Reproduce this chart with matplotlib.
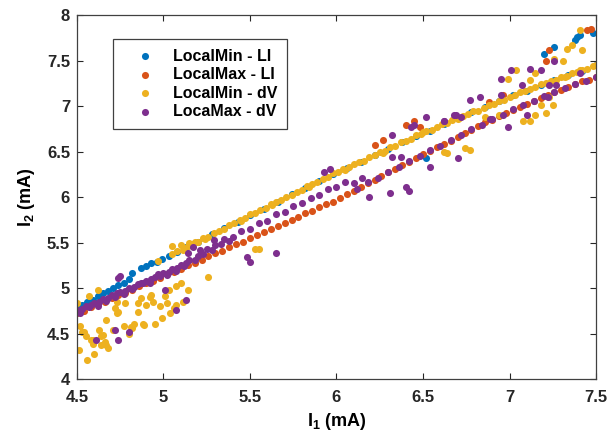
import numpy as np
import matplotlib
matplotlib.use('Agg')
import matplotlib.pyplot as plt

plt.rcParams['font.family'] = ['Liberation Sans', 'DejaVu Sans']
plt.rcParams['font.weight'] = 'bold'
plt.rcParams['mathtext.fontset'] = 'custom'
plt.rcParams['mathtext.rm'] = 'Liberation Sans:bold'
plt.rcParams['mathtext.bf'] = 'Liberation Sans:bold'

# values (I1, I2 in mA)
min_li = [(4.50, 4.79), (4.53, 4.81), (4.56, 4.85), (4.59, 4.87), (4.62, 4.91), (4.65, 4.94),
          (4.68, 4.97), (4.71, 5.00), (4.74, 5.03), (4.77, 5.06), (4.80, 5.10), (4.82, 5.16),
          (4.87, 5.22), (4.90, 5.24), (4.93, 5.27), (4.96, 5.29), (4.99, 5.32), (5.03, 5.35),
          (5.08, 5.40), (5.13, 5.45), (5.20, 5.51), (5.28, 5.59), (5.35, 5.66), (5.43, 5.73),
          (5.50, 5.80), (5.58, 5.87), (5.66, 5.95), (5.74, 6.03), (5.82, 6.10), (5.90, 6.18),
          (5.98, 6.25), (6.06, 6.32), (6.14, 6.39), (6.22, 6.46), (6.30, 6.53), (6.38, 6.60),
          (6.46, 6.67), (6.54, 6.73), (6.62, 6.80), (6.70, 6.87), (6.78, 6.93), (6.86, 6.99),
          (6.94, 7.05), (7.02, 7.12), (7.10, 7.17), (7.18, 7.23), (7.26, 7.29), (7.34, 7.34),
          (7.42, 7.39), (7.50, 7.45), (6.52, 6.43), (7.20, 7.57), (7.26, 7.65), (7.38, 7.73),
          (7.39, 7.76), (7.41, 7.78), (7.48, 7.80)]

max_li = [(4.50, 4.72), (4.54, 4.75), (4.58, 4.79), (4.62, 4.82), (4.66, 4.85), (4.70, 4.89),
          (4.74, 4.92), (4.78, 4.95), (4.82, 4.98), (4.86, 5.02), (4.90, 5.05), (4.94, 5.08),
          (4.98, 5.11), (5.02, 5.15), (5.06, 5.18), (5.10, 5.21), (5.14, 5.25), (5.18, 5.28),
          (5.22, 5.31), (5.26, 5.35), (5.30, 5.38), (5.34, 5.41), (5.38, 5.45), (5.42, 5.48),
          (5.46, 5.51), (5.50, 5.55), (5.54, 5.58), (5.58, 5.62), (5.62, 5.65), (5.66, 5.68),
          (5.70, 5.72), (5.74, 5.75), (5.78, 5.78), (5.82, 5.82), (5.86, 5.85), (5.90, 5.89),
          (5.94, 5.92), (5.98, 5.95), (6.02, 5.99), (6.06, 6.03), (6.10, 6.07), (6.14, 6.11),
          (6.18, 6.15), (6.22, 6.19), (6.26, 6.23), (6.30, 6.27), (6.34, 6.31), (6.38, 6.35),
          (6.42, 6.39), (6.46, 6.43), (6.50, 6.47), (6.54, 6.51), (6.58, 6.55), (6.62, 6.58),
          (6.66, 6.62), (6.70, 6.66), (6.74, 6.70), (6.78, 6.74), (6.82, 6.78), (6.86, 6.82),
          (6.90, 6.85), (6.94, 6.89), (6.98, 6.92), (7.02, 6.96), (7.06, 6.99), (7.10, 7.02),
          (7.14, 7.05), (7.18, 7.09), (7.22, 7.12), (7.26, 7.15), (7.30, 7.18), (7.34, 7.21),
          (7.38, 7.24), (7.42, 7.27), (7.46, 7.29), (7.50, 7.32),
          (6.22, 6.57), (6.27, 6.63), (6.40, 6.79), (6.45, 6.83), (6.48, 6.77), (6.88, 7.04),
          (6.96, 7.12), (7.21, 7.49), (7.23, 7.62), (7.45, 7.83), (7.47, 7.85)]

min_dv = [(5.05, 5.37), (5.08, 5.41), (5.11, 5.42), (5.14, 5.46), (5.17, 5.48), (5.20, 5.51),
          (5.23, 5.55), (5.26, 5.56), (5.29, 5.60), (5.32, 5.63), (5.35, 5.65), (5.38, 5.69),
          (5.41, 5.71), (5.44, 5.75), (5.47, 5.77), (5.50, 5.81), (5.53, 5.82), (5.56, 5.86),
          (5.59, 5.88), (5.62, 5.92), (5.65, 5.94), (5.68, 5.97), (5.71, 6.00), (5.74, 6.02),
          (5.77, 6.06), (5.80, 6.08), (5.83, 6.12), (5.86, 6.14), (5.89, 6.16), (5.92, 6.20),
          (5.95, 6.22), (5.98, 6.26), (6.01, 6.28), (6.04, 6.31), (6.07, 6.33), (6.10, 6.36),
          (6.13, 6.39), (6.16, 6.40), (6.19, 6.44), (6.22, 6.46), (6.25, 6.49), (6.28, 6.51),
          (6.31, 6.55), (6.34, 6.56), (6.37, 6.60), (6.40, 6.62), (6.43, 6.64), (6.46, 6.68),
          (6.49, 6.69), (6.52, 6.73), (6.55, 6.74), (6.58, 6.77), (6.61, 6.80), (6.64, 6.81),
          (6.67, 6.85), (6.70, 6.86), (6.73, 6.89), (6.76, 6.91), (6.79, 6.94), (6.82, 6.95),
          (6.85, 6.98), (6.88, 7.01), (6.91, 7.02), (6.94, 7.06), (6.97, 7.07), (7.00, 7.10),
          (7.03, 7.12), (7.06, 7.15), (7.09, 7.16), (7.12, 7.19), (7.15, 7.21), (7.18, 7.24),
          (7.21, 7.25), (7.24, 7.28), (7.27, 7.29), (7.30, 7.32), (7.33, 7.33), (7.36, 7.36),
          (7.39, 7.37), (7.42, 7.40), (7.45, 7.41), (7.48, 7.44), (7.50, 7.45),
          (5.12, 5.44), (5.18, 5.51), (5.24, 5.54), (5.45, 5.74), (5.63, 5.91), (5.84, 6.11),
          (6.05, 6.30), (6.27, 6.48), (6.50, 6.71), (6.71, 6.87),
          (4.50, 4.83), (4.97, 5.30), (5.05, 5.46), (5.10, 5.47), (5.15, 5.49),
          (4.57, 4.91), (4.62, 4.98), (4.52, 4.58), (4.54, 4.52), (4.55, 4.47), (4.58, 4.43),
          (4.59, 4.39), (4.51, 4.32), (4.60, 4.28), (4.56, 4.21), (4.63, 4.54), (4.64, 4.47),
          (4.67, 4.65), (4.72, 4.78), (4.74, 4.74), (4.73, 4.85), (4.78, 4.83), (4.77, 4.58),
          (4.80, 4.50), (4.82, 4.56), (4.83, 4.61), (4.85, 4.83), (4.85, 4.74), (4.87, 4.89),
          (4.88, 4.61), (4.89, 4.59), (4.90, 4.81), (4.93, 4.92), (4.94, 4.85), (4.95, 4.61),
          (4.98, 4.80), (4.99, 4.67), (5.01, 4.91), (5.02, 4.83), (5.03, 4.98), (5.06, 4.78),
          (5.07, 5.02), (5.07, 4.81), (5.10, 5.05), (5.11, 4.85), (5.14, 4.98), (5.26, 5.12),
          (4.64, 4.37), (4.68, 4.34), (4.66, 4.41), (4.53, 4.52), (4.59, 4.43), (4.71, 4.54),
          (4.73, 4.72), (4.81, 4.57), (4.92, 4.90), (5.04, 4.72), (4.67, 4.37), (4.65, 4.48),
          (5.53, 5.43), (5.55, 5.43), (6.62, 6.50), (6.74, 6.54), (6.64, 6.48), (6.77, 6.52),
          (7.08, 6.83), (7.12, 6.83), (7.15, 6.90), (7.18, 7.01), (7.21, 6.92), (7.25, 7.01),
          (7.23, 7.10), (7.04, 7.40), (6.99, 7.30), (7.12, 7.29), (7.15, 7.36), (7.32, 7.32),
          (7.41, 7.40), (7.26, 7.52), (7.31, 7.49), (7.33, 7.63), (7.36, 7.67), (7.42, 7.62),
          (7.41, 7.84), (6.86, 6.88), (6.94, 6.90)]

max_dv = [(4.50, 4.76), (4.53, 4.77), (4.55, 4.80), (4.58, 4.81), (4.60, 4.84), (4.63, 4.85),
          (4.65, 4.88), (4.68, 4.89), (4.70, 4.92), (4.73, 4.94), (4.75, 4.96), (4.78, 4.97),
          (4.80, 5.00), (4.83, 5.01), (4.85, 5.04), (4.88, 5.05), (4.90, 5.08), (4.93, 5.10),
          (4.95, 5.12), (4.98, 5.13), (5.00, 5.16), (5.03, 5.18), (5.05, 5.21), (5.08, 5.22),
          (5.10, 5.25), (5.13, 5.27), (5.15, 5.31), (5.20, 5.35), (5.25, 5.43), (5.30, 5.47),
          (5.35, 5.54), (5.40, 5.56), (5.45, 5.63), (5.50, 5.65), (5.55, 5.72), (5.60, 5.74),
          (5.65, 5.81), (5.70, 5.83), (5.75, 5.90), (5.80, 5.93), (5.85, 5.99), (5.90, 6.02),
          (5.95, 6.09), (6.00, 6.11), (6.05, 6.17), (6.10, 6.15), (6.15, 6.21),
          (4.52, 4.73), (4.57, 4.79), (4.62, 4.80), (4.67, 4.86), (4.72, 4.90), (4.77, 4.93),
          (4.82, 4.99), (4.87, 5.06), (4.92, 5.06), (4.97, 5.15), (5.02, 5.14), (5.07, 5.19),
          (5.12, 5.24), (5.18, 5.31), (5.23, 5.37), (5.28, 5.42), (5.33, 5.48), (5.38, 5.52),
          (6.12, 6.09), (6.18, 6.16), (6.24, 6.21), (6.30, 6.28), (6.36, 6.33), (6.42, 6.40),
          (6.48, 6.45), (6.54, 6.52), (6.60, 6.56), (6.66, 6.63), (6.72, 6.68), (6.78, 6.75),
          (6.84, 6.79), (6.90, 6.86), (6.96, 6.90), (7.02, 6.97), (7.08, 7.01), (7.14, 7.06),
          (7.20, 7.11), (7.26, 7.15), (7.32, 7.20), (7.38, 7.24), (7.44, 7.28), (7.50, 7.32),
          (4.74, 5.11), (4.75, 5.13), (5.14, 5.38), (5.29, 5.53), (5.93, 6.28), (5.96, 6.31),
          (6.32, 6.68), (6.43, 6.77), (6.45, 6.79), (6.52, 6.88), (6.69, 6.90), (6.72, 6.88),
          (6.62, 6.83), (6.77, 7.07), (6.83, 7.10), (6.95, 7.30), (7.01, 7.40), (7.12, 7.41),
          (7.18, 7.40), (7.26, 7.49), (7.07, 7.23), (6.95, 7.12), (7.23, 7.23), (7.27, 7.23),
          (7.22, 7.10), (7.41, 7.36), (4.61, 4.43), (4.72, 4.54), (4.74, 4.43), (4.80, 4.52),
          (5.01, 4.98), (5.07, 4.76), (5.13, 4.87), (5.50, 5.29), (5.65, 5.38), (5.48, 5.34),
          (5.17, 5.45), (5.21, 5.42), (6.19, 6.00), (6.31, 6.04), (6.40, 6.11), (6.42, 6.07),
          (6.37, 6.44), (6.32, 6.44), (6.54, 6.33), (6.70, 6.43), (6.89, 6.86), (6.99, 6.77),
          (7.10, 6.90), (6.68, 6.90), (6.62, 6.83)]

series = [(min_li, '#0072BD', 'LocalMin - LI'),
          (max_li, '#D95319', 'LocalMax - LI'),
          (min_dv, '#EDB120', 'LocalMin - dV'),
          (max_dv, '#7E2F8E', 'LocaMax - dV')]

fig = plt.figure(figsize=(6.08, 4.42), dpi=100)
ax = fig.add_axes([0.1266, 0.1425, 0.8537, 0.8235])
for pts, col, lab in series:
    pts = np.array(pts)
    ax.scatter(pts[:, 0], pts[:, 1], s=26, color=col, linewidths=0, label=lab)

ax.set_xlim(4.5, 7.5)
ax.set_ylim(4, 8)
ax.set_xticks([4.5, 5, 5.5, 6, 6.5, 7, 7.5])
ax.set_xticklabels(['4.5', '5', '5.5', '6', '6.5', '7', '7.5'])
ax.set_yticks([4, 4.5, 5, 5.5, 6, 6.5, 7, 7.5, 8])
ax.set_yticklabels(['4', '4.5', '5', '5.5', '6', '6.5', '7', '7.5', '8'])
ax.tick_params(direction='in', top=True, right=True, length=4, width=0.8,
               labelsize=12, colors='#262626', pad=5)
ax.tick_params(axis='x', pad=8)
for sp in ax.spines.values():
    sp.set_color('#404040')
    sp.set_linewidth(0.9)

ax.set_xlabel(r'I$_\mathbf{1}$ (mA)', fontsize=13, fontweight='bold', labelpad=4)
ax.set_ylabel(r'I$_\mathbf{2}$ (mA)', fontsize=13, fontweight='bold', labelpad=7)

leg = ax.legend(loc='upper left', bbox_to_anchor=(0.069, 0.934), borderaxespad=0,
                fancybox=False, framealpha=1, edgecolor='#404040', fontsize=11.5,
                handlelength=2.8, handletextpad=0.4, labelspacing=0.22, borderpad=0.6,
                scatterpoints=1)
leg.get_frame().set_linewidth(0.9)

plt.savefig('out.png', dpi=100)
